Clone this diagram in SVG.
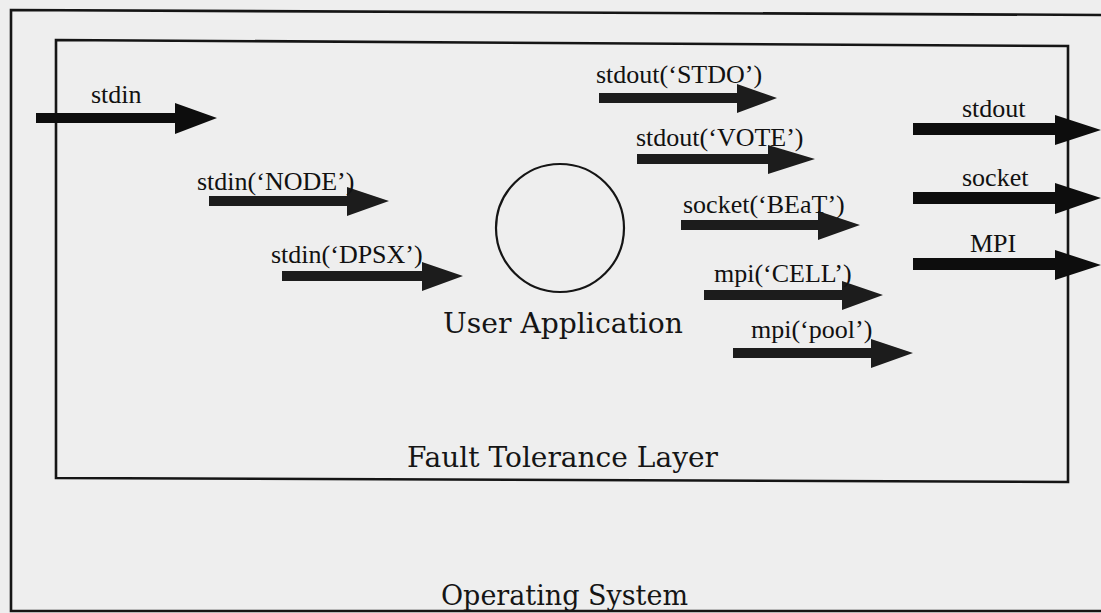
<svg xmlns="http://www.w3.org/2000/svg" width="1101" height="613" viewBox="0 0 1101 613">
  <style>
    .box { fill: none; stroke: #151515; stroke-width: 2.6; }
    .circ { fill: none; stroke: #151515; stroke-width: 2.2; }
    .arr { fill: #1c1c1c; stroke: none; }
    .arrk { fill: #0d0d0d; stroke: none; }
    .lbl { font-family: "Liberation Serif", "Times New Roman", serif; font-size: 26px; fill: #111; }
    .big { font-family: "DejaVu Serif", "Liberation Serif", serif; font-size: 28px; fill: #151515; }
  </style>
  <rect x="0" y="0" width="1101" height="613" fill="#eeeeee"/>

  <g id="operating-system">
    <path class="box" d="M1110,15 L11,10 L11,611 L1110,611"/>
    <text class="big" x="441" y="605" textLength="247" lengthAdjust="spacingAndGlyphs">Operating System</text>
  </g>

  <g id="fault-tolerance-layer">
    <path class="box" d="M56,40 L1068,46 L1068,482 L56,478 Z"/>
    <text class="big" x="407" y="467" textLength="311" lengthAdjust="spacingAndGlyphs">Fault Tolerance Layer</text>
  </g>

  <g id="user-application">
    <circle class="circ" cx="560" cy="228" r="64"/>
    <text class="big" x="443" y="333" textLength="240" lengthAdjust="spacingAndGlyphs">User Application</text>
  </g>

  <g id="connectors">
    <path class="arrk" d="M36,113 H175 V103 L217,118 L175,134 V123 H36 Z"/>
    <text class="lbl" x="91" y="103">stdin</text>

    <path class="arr" d="M209,196 H347 V187 L389,201 L347,216 V206 H209 Z"/>
    <text class="lbl" x="197" y="190">stdin(‘NODE’)</text>

    <path class="arr" d="M282,271 H422 V262 L463,276 L422,291 V281 H282 Z"/>
    <text class="lbl" x="271" y="263">stdin(‘DPSX’)</text>

    <path class="arr" d="M599,93 H737 V84 L777,98 L737,113 V103 H599 Z"/>
    <text class="lbl" x="596" y="83">stdout(‘STDO’)</text>

    <path class="arr" d="M637,154 H768 V145 L815,159 L768,174 V164 H637 Z"/>
    <text class="lbl" x="636" y="146">stdout(‘VOTE’)</text>

    <path class="arr" d="M681,220 H818 V211 L860,225 L818,240 V230 H681 Z"/>
    <text class="lbl" x="683" y="213">socket(‘BEaT’)</text>

    <path class="arr" d="M704,290 H842 V281 L883,295 L842,310 V300 H704 Z"/>
    <text class="lbl" x="714" y="282">mpi(‘CELL’)</text>

    <path class="arr" d="M733,348 H871 V339 L913,353 L871,368 V358 H733 Z"/>
    <text class="lbl" x="751" y="338">mpi(‘pool’)</text>

    <path class="arrk" d="M913,123 H1055 V115 L1101,130 L1055,145 V135 H913 Z"/>
    <text class="lbl" x="962" y="117">stdout</text>

    <path class="arrk" d="M913,192 H1055 V183 L1101,198 L1055,214 V204 H913 Z"/>
    <text class="lbl" x="962" y="186">socket</text>

    <path class="arrk" d="M913,258 H1055 V250 L1101,265 L1055,280 V270 H913 Z"/>
    <text class="lbl" x="970" y="252">MPI</text>
  </g>
</svg>
